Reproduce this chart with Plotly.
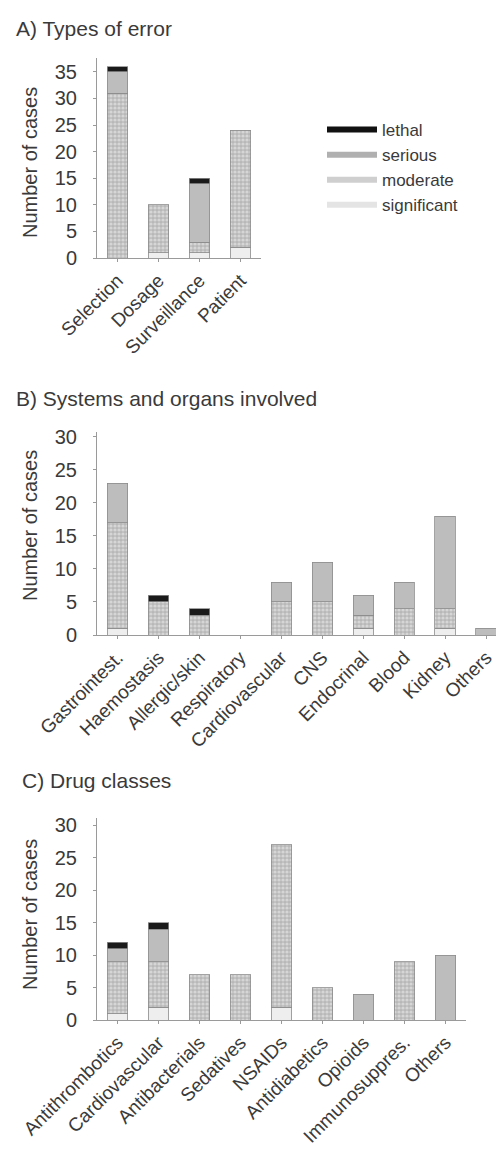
import plotly.graph_objects as go

# ---- data ----
severity = ["significant", "moderate", "serious", "lethal"]

error_types = ["Selection", "Dosage", "Surveillance", "Patient"]
err_significant = [0, 1, 1, 2]
err_moderate = [31, 9, 2, 22]
err_serious = [4, 0, 11, 0]
err_lethal = [1, 0, 1, 0]

systems = ["Gastrointest.", "Haemostasis", "Allergic/skin", "Respiratory",
           "Cardiovascular", "CNS", "Endocrinal", "Blood", "Kidney", "Others"]
sys_significant = [1, 0, 0, 0, 0, 0, 1, 0, 1, 0]
sys_moderate = [16, 5, 3, 0, 5, 5, 2, 4, 3, 0]
sys_serious = [6, 0, 0, 0, 3, 6, 3, 4, 14, 1]
sys_lethal = [0, 1, 1, 0, 0, 0, 0, 0, 0, 0]

drug_classes = ["Antithrombotics", "Cardiovascular", "Antibacterials", "Sedatives",
                "NSAIDs", "Antidiabetics", "Opioids", "Immunosuppres.", "Others"]
drug_significant = [1, 2, 0, 0, 2, 0, 0, 0, 0]
drug_moderate = [8, 7, 7, 7, 25, 5, 0, 9, 0]
drug_serious = [2, 5, 0, 0, 0, 0, 4, 0, 10]
drug_lethal = [1, 1, 0, 0, 0, 0, 0, 0, 0]

panel_titles = ["A) Types of error", "B) Systems and organs involved", "C) Drug classes"]

# ---- styles ----
FONT = "Liberation Sans, Arial, sans-serif"
TXT = "#3a3a3a"
AXC = "#9a9a9a"
W, H = 496, 1153

styles = {
    "significant": dict(color="#eeeeee", pattern=None, legend="#e4e4e4"),
    "moderate": dict(color="#c9c9c9",
                     pattern=dict(shape=".", fgcolor="#f4f4f4", bgcolor="#b8b8b8",
                                  size=4, solidity=0.5),
                     legend="#cfcfcf"),
    "serious": dict(color="#bdbdbd", pattern=None, legend="#b0b0b0"),
    "lethal": dict(color="#1a1a1a", pattern=None, legend="#111111"),
}


def nz(vals):
    return [v if v else None for v in vals]


fig = go.Figure()

panels = [
    (error_types, [err_significant, err_moderate, err_serious, err_lethal], "x", "y"),
    (systems, [sys_significant, sys_moderate, sys_serious, sys_lethal], "x2", "y2"),
    (drug_classes, [drug_significant, drug_moderate, drug_serious, drug_lethal], "x3", "y3"),
]

for cats, series, xa, ya in panels:
    for name, vals in zip(severity, series):
        st = styles[name]
        marker = dict(color=st["color"], line=dict(color="#8c8c8c", width=0.8))
        if st["pattern"] is not None:
            marker["pattern"] = st["pattern"]
        fig.add_trace(go.Bar(x=cats, y=nz(vals), name=name, marker=marker,
                             width=0.5, xaxis=xa, yaxis=ya, showlegend=False))

# legend entries (horizontal bars, as in the key)
for name in ["lethal", "serious", "moderate", "significant"]:
    fig.add_trace(go.Scatter(x=[None], y=[None], mode="lines", name=name,
                             line=dict(color=styles[name]["legend"], width=6),
                             xaxis="x", yaxis="y", showlegend=True))


def py(px):
    return 1 - px / H


def px_x(px):
    return px / W


axis_common = dict(showline=True, linecolor=AXC, linewidth=1, showgrid=False,
                   zeroline=False, ticks="outside", tickcolor=AXC, ticklen=3,
                   automargin=False,
                   tickfont=dict(family=FONT, size=19, color=TXT))
yfont = dict(family=FONT, size=20, color=TXT)

fig.update_layout(
    width=W, height=H, margin=dict(l=0, r=0, t=0, b=0, autoexpand=False),
    paper_bgcolor="white", plot_bgcolor="white",
    barmode="stack",
    font=dict(family=FONT, color=TXT),
    legend=dict(x=px_x(322), y=py(112), xanchor="left", yanchor="top",
                traceorder="normal", itemwidth=50, tracegroupgap=0,
                font=dict(family=FONT, size=17, color=TXT),
                bgcolor="rgba(0,0,0,0)"),
    xaxis=dict(domain=[px_x(97), px_x(261)], range=[-0.5, 3.5], anchor="y",
               tickangle=-45, **axis_common),
    yaxis=dict(domain=[py(258), py(58)], range=[0, 37.6], anchor="x",
               tickvals=[0, 5, 10, 15, 20, 25, 30, 35], ticklabelstandoff=12,
               **{**axis_common, "tickfont": yfont}),
    xaxis2=dict(domain=[px_x(97), 1], range=[-0.5, 9.24], anchor="y2",
                tickangle=-45, **axis_common),
    yaxis2=dict(domain=[py(635), py(432)], range=[0, 30.75], anchor="x2",
                tickvals=[0, 5, 10, 15, 20, 25, 30], ticklabelstandoff=12,
                **{**axis_common, "tickfont": yfont}),
    xaxis3=dict(domain=[px_x(97), px_x(466)], range=[-0.5, 8.5], anchor="y3",
                tickangle=-45, **axis_common),
    yaxis3=dict(domain=[py(1020), py(818)], range=[0, 31.1], anchor="x3",
                tickvals=[0, 5, 10, 15, 20, 25, 30], ticklabelstandoff=12,
                **{**axis_common, "tickfont": yfont}),
)

# panel headings
for title, ypx, xpx in zip(panel_titles, [28, 398, 780], [14, 14, 20]):
    fig.add_annotation(text=title, xref="paper", yref="paper", x=px_x(xpx), y=py(ypx),
                       xanchor="left", yanchor="middle", showarrow=False,
                       font=dict(family=FONT, size=21, color=TXT))

# y-axis titles
for ypx in [163, 526, 915]:
    fig.add_annotation(text="Number of cases", xref="paper", yref="paper",
                       x=px_x(30), y=py(ypx), xanchor="center", yanchor="middle",
                       textangle=-90, showarrow=False,
                       font=dict(family=FONT, size=20, color=TXT))

fig.write_html("out.html")
